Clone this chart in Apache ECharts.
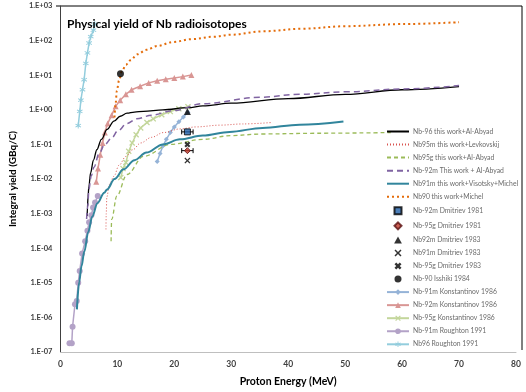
<!DOCTYPE html>
<html>
<head>
<meta charset="utf-8">
<script src="https://cdn.jsdelivr.net/npm/echarts@6/dist/echarts.min.js"></script>
<style>
  html, body { margin: 0; padding: 0; background: #fff; }
  #chart { width: 526px; height: 392px; }
</style>
</head>
<body>
<div id="chart"></div>
<script>
// Integral physical yields of Nb radioisotopes vs proton energy: [E (MeV), yield (GBq/C)]
const nb96ThisWork = [[4.7,8.5e-4],[4.75,1.5e-3],[4.85,3e-3],[5.0,6e-3],[5.3,1.5e-2],[5.8,3.5e-2],[6.4,7e-2],[7.2,0.14],[8.2,0.27],[9.4,0.47],[10.5,0.65],[11.7,0.8],[13,0.86],[14.6,0.9],[18,1.0],[22.4,1.15],[25,1.3],[30,1.55],[40,2.1],[50,2.8],[60,3.8],[70,4.7]];
const nb95mThisWork = [[8.0,3.5e-4],[8.05,1e-3],[8.15,3e-3],[8.6,7e-3],[9.4,1.2e-2],[10.3,2.5e-2],[11.5,4.5e-2],[12.7,7e-2],[14.1,0.11],[16,0.16],[18.1,0.22],[21,0.28],[23.8,0.32],[28,0.36],[32,0.39],[37.2,0.43]];
const nb95gThisWork = [[8.9,1.6e-4],[9.0,6.8e-4],[9.9,3.2e-3],[11.7,1.35e-2],[14.6,4.5e-2],[19.3,0.1],[25,0.14],[30,0.18],[35.5,0.2],[45,0.21],[58,0.22]];
const nb92mThisWork = [[4.6,7e-4],[4.8,1.6e-3],[5.0,5e-3],[5.4,1.2e-2],[5.9,2.2e-2],[6.8,5.5e-2],[7.8,0.1],[9.1,0.16],[10,0.24],[11.7,0.4],[13.4,0.55],[16,0.7],[19.8,0.95],[25,1.5],[35,2.3],[42,2.8],[50,3.3],[60,4.0],[70,5.0]];
const nb91mThisWork = [[2.9,1.7e-6],[3.3,1.05e-5],[3.7,3e-5],[4.2,8e-5],[4.9,3e-4],[5.6,8.3e-4],[6.5,2e-3],[7.7,4e-3],[8.2,5e-3],[9.5,1e-2],[11.1,1.9e-2],[13,3.5e-2],[15.1,5.8e-2],[18,0.1],[21,0.14],[25,0.18],[29.7,0.23],[35.5,0.3],[42,0.37],[49.7,0.46]];
const nb90ThisWork = [[9.5,0.6],[9.7,1.5],[9.9,3.5],[10.3,7],[10.8,13],[11.5,20],[12.3,27],[13.5,40],[15.1,54],[17,70],[19.8,91],[23,110],[26.8,129],[30,148],[35.5,185],[42.4,220],[50,260],[60,300],[70,340]];

// Literature points: [E, yield, half-width of energy error bar]
const nb92mDmitriev1981 = [[22.3,0.23,1.0]];
const nb95gDmitriev1981 = [[22.3,0.066,1.0]];
const nb92mDmitriev1983 = [[22.3,0.89]];
const nb91mDmitriev1983 = [[22.3,0.034]];
const nb95gDmitriev1983 = [[22.3,0.1]];
const nb90Isshiki1984 = [[10.55,11]];

const nb91mKonstantinov = [[17.0,0.032],[17.5,0.055],[18.0,0.09],[18.6,0.14],[19.3,0.22],[20.0,0.32],[20.8,0.45],[21.6,0.62],[22.4,0.85]];
const nb92mKonstantinov = [[6.3,8.3e-3],[6.6,2e-2],[7.0,5e-2],[7.4,0.11],[7.8,0.22],[8.3,0.4],[9.0,0.7],[9.7,1.26],[10.5,1.9],[11.5,2.8],[12.5,3.8],[14,4.8],[15.5,6.0],[17,6.9],[18.5,7.6],[20,8.3],[21.5,9.1],[23,10.2]];
const nb95gKonstantinov = [[10.6,0.011],[11.0,0.02],[11.5,0.03],[12.0,0.063],[12.6,0.11],[13.3,0.19],[14.1,0.3],[15.2,0.43],[16.3,0.55],[17.8,0.72],[19.3,0.89],[20.8,1.07],[22.4,1.23]];
const nb91mRoughton = [[1.6,1.8e-7],[2.0,1.8e-7],[2.14,5.4e-7],[2.56,2.4e-6],[2.87,3e-6],[3.13,1.0e-5],[3.39,2.2e-5],[3.81,7e-5],[4.35,1.6e-4],[4.75,3.2e-4],[5.04,5.6e-4],[5.44,8.9e-4],[5.74,1.5e-3],[6.09,2.1e-3],[6.56,3.2e-3]];
const nb96Roughton = [[3.13,0.35],[3.4,0.9],[3.6,1.9],[3.88,3.8],[4.17,7.4],[4.46,22],[4.75,44],[5.04,85],[5.33,130],[5.8,200],[6.03,300]];

const xTicks = { min: 0, max: 80, interval: 10 };
const yRange = { min: 1e-7, max: 1e3 };

const FONT = 'Lato, "Open Sans", sans-serif';
const X_MARK = 'path://M0,1.5L1.5,0L5,3.5L8.5,0L10,1.5L6.5,5L10,8.5L8.5,10L5,6.5L1.5,10L0,8.5L3.5,5Z';
const X_BOLD = 'path://M0,2.5L2.5,0L5,2.5L7.5,0L10,2.5L7.5,5L10,7.5L7.5,10L5,7.5L2.5,10L0,7.5L2.5,5Z';
const STAR = 'path://M4.3,0H5.7V3.3L8.6,1.6L9.3,2.8L6.4,4.5L9.3,6.2L8.6,7.4L5.7,5.7V9H4.3V5.7L1.4,7.4L0.7,6.2L3.6,4.5L0.7,2.8L1.4,1.6L4.3,3.3Z';
const SQUARE = 'path://M0,0H10V10H0Z';
const DIAMOND = 'path://M5,0L10,5L5,10L0,5Z';
const TRIANGLE = 'path://M5,0L10,9L0,9Z';
const DOT = 'path://M5,0A5,5,0,1,1,4.99,0Z';

function curve(name, data, color, width, type) {
  return {
    name, type: 'line', data, showSymbol: false, symbol: 'none',
    smooth: 0.35, smoothMonotone: 'x',
    lineStyle: { color, width, type },
    itemStyle: { color },
    z: 3
  };
}
function measured(name, data, color, symbol, size) {
  return {
    name, type: 'line', data, symbol, symbolSize: size,
    lineStyle: { color, width: 1.5 },
    itemStyle: { color },
    z: 2
  };
}
function point(name, data, color, symbol, size, border) {
  return {
    name, type: 'scatter', data: data.map(d => [d[0], d[1]]), symbol, symbolSize: size,
    itemStyle: { color, borderColor: border || color, borderWidth: border ? 1 : 0 },
    z: 6
  };
}
function errorBars(data) {
  return {
    type: 'custom', data, z: 5, silent: true,
    encode: { x: 0, y: 1 },
    renderItem(params, api) {
      const x = api.value(0), y = api.value(1), e = api.value(2);
      const a = api.coord([x - e, y]), b = api.coord([x + e, y]);
      const s = { stroke: '#000', lineWidth: 1 };
      return { type: 'group', children: [
        { type: 'line', shape: { x1: a[0], y1: a[1], x2: b[0], y2: b[1] }, style: s },
        { type: 'line', shape: { x1: a[0], y1: a[1] - 2.5, x2: a[0], y2: a[1] + 2.5 }, style: s },
        { type: 'line', shape: { x1: b[0], y1: b[1] - 2.5, x2: b[0], y2: b[1] + 2.5 }, style: s }
      ]};
    }
  };
}

const curveSeries = [
  curve('Nb-96 this work+Al-Abyad', nb96ThisWork, '#000000', 1.3, 'solid'),
  curve('Nb95m this work+Levkovskij', nb95mThisWork, '#D9534F', 1, [1, 2]),
  curve('Nb95g this work+Al-Abyad', nb95gThisWork, '#9BBB59', 1.3, [4, 3]),
  curve('Nb-92m This work + Al-Abyad', nb92mThisWork, '#8064A2', 1.5, [6, 4]),
  curve('Nb91m this work+Visotsky+Michel', nb91mThisWork, '#31859C', 2, 'solid'),
  curve('Nb90 this work+Michel', nb90ThisWork, '#E46C0A', 2, [2, 3])
];
const otherSeries = [
  errorBars(nb92mDmitriev1981),
  errorBars(nb95gDmitriev1981),
  point('Nb-92m Dmitriev 1981', nb92mDmitriev1981, '#1F5FA8', SQUARE, 6, '#000'),
  point('Nb-95g Dmitriev 1981', nb95gDmitriev1981, '#C0392B', DIAMOND, 6, '#5a1010'),
  point('Nb92m Dmitriev 1983', nb92mDmitriev1983, '#000000', TRIANGLE, 7),
  point('Nb91m Dmitriev 1983', nb91mDmitriev1983, '#000000', X_MARK, 6),
  point('Nb-95g Dmitriev 1983', nb95gDmitriev1983, '#000000', X_BOLD, 6),
  point('Nb-90 Isshiki 1984', nb90Isshiki1984, '#000000', DOT, 7),
  measured('Nb-91m Konstantinov 1986', nb91mKonstantinov, '#95B3D7', DIAMOND, 5),
  measured('Nb-92m Konstantinov 1986', nb92mKonstantinov, '#D99694', TRIANGLE, 6),
  measured('Nb-95g Konstantinov 1986', nb95gKonstantinov, '#C3D69B', X_MARK, 6),
  measured('Nb-91m Roughton 1991', nb91mRoughton, '#B3A2C7', DOT, 6),
  measured('Nb96 Roughton 1991', nb96Roughton, '#93CDDD', STAR, 6)
];
const series = curveSeries.concat(otherSeries);

// Curves show only their line in the legend; measured sets show line and marker
const legendData = series.filter(s => s.name).map(s =>
  curveSeries.includes(s) ? { name: s.name, itemStyle: { opacity: 0 } } : { name: s.name }
);

const chart = echarts.init(document.getElementById('chart'), null, { renderer: 'canvas' });
chart.setOption({
  animation: false,
  backgroundColor: '#ffffff',
  title: {
    text: 'Physical yield of Nb radioisotopes',
    left: 62, top: 13,
    textStyle: { fontFamily: FONT, fontWeight: 'bold', fontSize: 12, color: '#000' }
  },
  legend: {
    data: legendData,
    orient: 'vertical',
    left: 381, top: 123,
    itemWidth: 22, itemHeight: 7, itemGap: 6.05,
    symbolKeepAspect: true,
    textStyle: { fontFamily: FONT, fontSize: 6.8, color: '#6b6b6b', padding: [0, 0, 0, -1] }
  },
  grid: { left: 56, right: 10, top: 6, bottom: 39 },
  xAxis: {
    type: 'value', min: xTicks.min, max: xTicks.max, interval: xTicks.interval,
    name: 'Proton Energy (MeV)', nameLocation: 'middle', nameGap: 24,
    nameTextStyle: { fontFamily: FONT, fontWeight: 'bold', fontSize: 10.5, color: '#000' },
    axisLine: { lineStyle: { color: '#BFBFBF' } },
    axisTick: { show: false },
    splitLine: { show: false },
    axisLabel: { fontFamily: FONT, fontWeight: 'bold', fontSize: 8.5, color: '#404040', margin: 8 }
  },
  yAxis: {
    type: 'log', logBase: 10, min: yRange.min, max: yRange.max, interval: 1,
    name: 'Integral yield (GBq/C)', nameLocation: 'middle', nameGap: 41, nameRotate: 90,
    nameTextStyle: { fontFamily: FONT, fontWeight: 'bold', fontSize: 10, color: '#000' },
    axisLine: { show: true, lineStyle: { color: '#404040' } },
    axisTick: { show: false },
    splitLine: { show: false },
    axisLabel: {
      fontFamily: FONT, fontWeight: 'bold', fontSize: 7.5, color: '#404040', margin: 8,
      formatter: v => {
        const e = Math.round(Math.log10(v));
        return '1.E' + (e < 0 ? '-' : '+') + String(Math.abs(e)).padStart(2, '0');
      }
    }
  },
  graphic: [{
    type: 'polyline', silent: true,
    shape: { points: [[56, 6], [522, 6], [522, 350]] },
    style: { stroke: '#000', lineWidth: 1, fill: null }
  }],
  series
});
</script>
</body>
</html>
